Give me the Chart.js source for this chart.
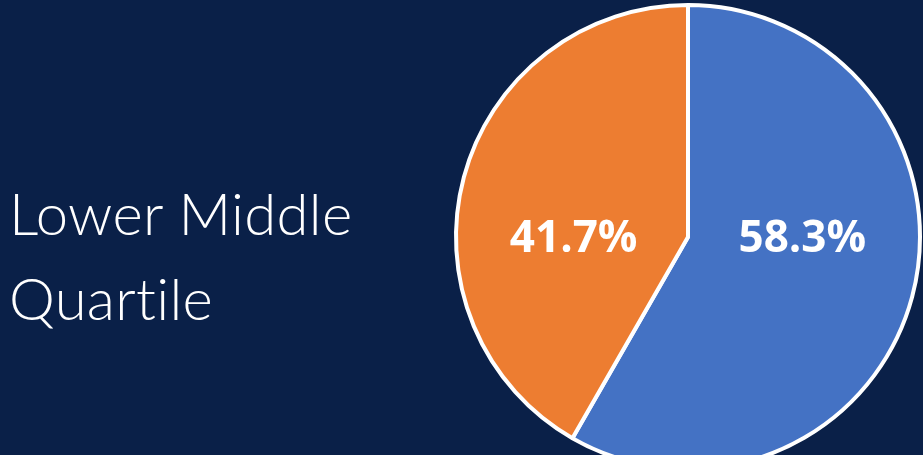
<!DOCTYPE html>
<html>
<head>
<meta charset="utf-8">
<style>
  html, body { margin: 0; padding: 0; background: #0a2048; }
  #wrap { position: relative; width: 923px; height: 455px; overflow: hidden; }
  #heading {
    position: absolute; left: 9px; top: 170px;
    color: #ffffff; font-family: Lato, "Open Sans", sans-serif; font-weight: 300;
    font-size: 58px; line-height: 85px; white-space: nowrap;
    font-variant-ligatures: none; letter-spacing: 0.3px;
  }
  canvas { position: absolute; left: 0; top: 0; }
</style>
</head>
<body>
<div id="wrap">
  <div id="heading">Lower Middle<br>Quartile</div>
  <canvas id="chartQuartile" width="923" height="455"></canvas>
</div>
<script src="https://cdn.jsdelivr.net/npm/chart.js@4"></script>
<script>
(function() {
    const groups = ['Group A', 'Group B'];
    const shares = [58.3, 41.7];
    const sliceColors = ['#4472c4', '#ed7d31'];

    // percentage text on each slice, level with the pie centre
    const sliceLabels = {
        id: 'sliceLabels',
        afterDatasetsDraw(chart) {
            const ctx = chart.ctx;
            const meta = chart.getDatasetMeta(0);
            ctx.save();
            ctx.fillStyle = '#ffffff';
            ctx.font = 'bold 44px "Open Sans", sans-serif';
            ctx.textAlign = 'center';
            ctx.textBaseline = 'middle';
            meta.data.forEach(function(arc, i) {
                const mid = (arc.startAngle + arc.endAngle) / 2;
                const x = arc.x + Math.cos(mid) * arc.outerRadius * 0.51;
                ctx.fillText(shares[i].toFixed(1) + '%', x, arc.y + 2);
            });
            ctx.restore();
        }
    };

    new Chart(document.getElementById('chartQuartile').getContext('2d'), {
        type: 'pie',
        data: {
            labels: groups,
            datasets: [{
                data: shares,
                backgroundColor: sliceColors,
                borderColor: '#ffffff',
                borderWidth: 4
            }]
        },
        options: {
            responsive: false,
            animation: false,
            radius: 232,
            layout: { padding: { left: 488, right: 35, top: 37, bottom: 18 } },
            plugins: { legend: { display: false }, tooltip: { enabled: false } }
        },
        plugins: [sliceLabels]
    });
})();
</script>
</body>
</html>
